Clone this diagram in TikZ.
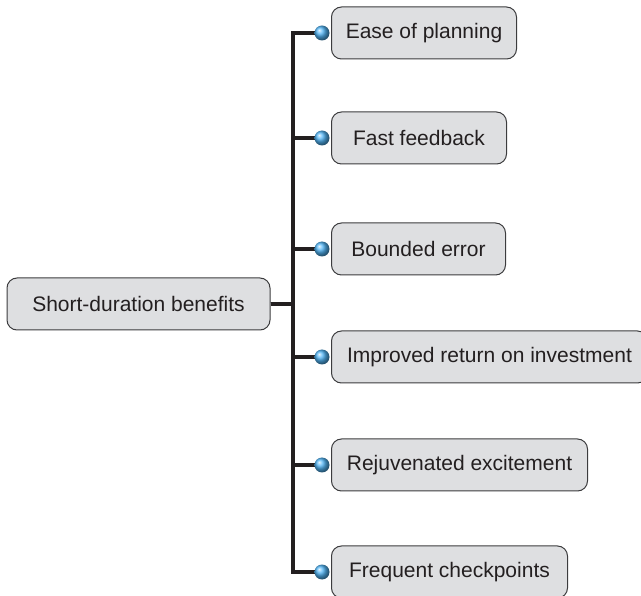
\documentclass[tikz,border=0pt]{standalone}
\usepackage{fontspec}
\setmainfont{Liberation Sans}
\usepackage{xcolor}
\usepackage{tikz}
\usetikzlibrary{positioning,shadings}
\definecolor{ink}{HTML}{231F20}
\definecolor{edge}{HTML}{3C3C3E}
\definecolor{boxfill}{HTML}{DEDFE1}
\definecolor{dotblue}{HTML}{52B6F7}
\tikzset{
  box/.style   ={rounded corners=10pt, draw=edge, fill=boxfill, line width=1pt,
                 font=\fontsize{21}{25}\selectfont, text=ink, minimum height=52pt, inner sep=0pt},
  topic/.style ={box, anchor=west, minimum width=#1},
  dot/.style   ={circle, inner sep=0pt, minimum size=15pt, shading=ball, ball color=dotblue},
  link/.style  ={draw=ink, line width=3.2pt},
}
\begin{document}
\begin{tikzpicture}[x=1pt,y=-1pt]
\useasboundingbox (0,0) rectangle (641,596);
\clip (0,0) rectangle (641,596);
% root
\node[box, minimum width=263pt] (root) at (138.5,304) {Short-duration benefits};
\coordinate (bus) at (293,304);
% topics
\node[topic=185pt] (t1) at (331,33)  {Ease of planning};
\node[topic=175pt] (t2) at (331,138) {Fast feedback};
\node[topic=174pt] (t3) at (331,249) {Bounded error};
\node[topic=316pt] (t4) at (331,357) {Improved return on investment};
\node[topic=256pt] (t5) at (331,465) {Rejuvenated excitement};
\node[topic=236pt] (t6) at (331,572) {Frequent checkpoints};
% dots and connectors
\foreach \i in {1,...,6} {
  \coordinate (d\i) at (322,0 |- t\i.west);
  \draw[link] (root.east) -- (bus) |- (d\i);
  \node[dot] (b\i) at (d\i) {};
}
\end{tikzpicture}
\end{document}
